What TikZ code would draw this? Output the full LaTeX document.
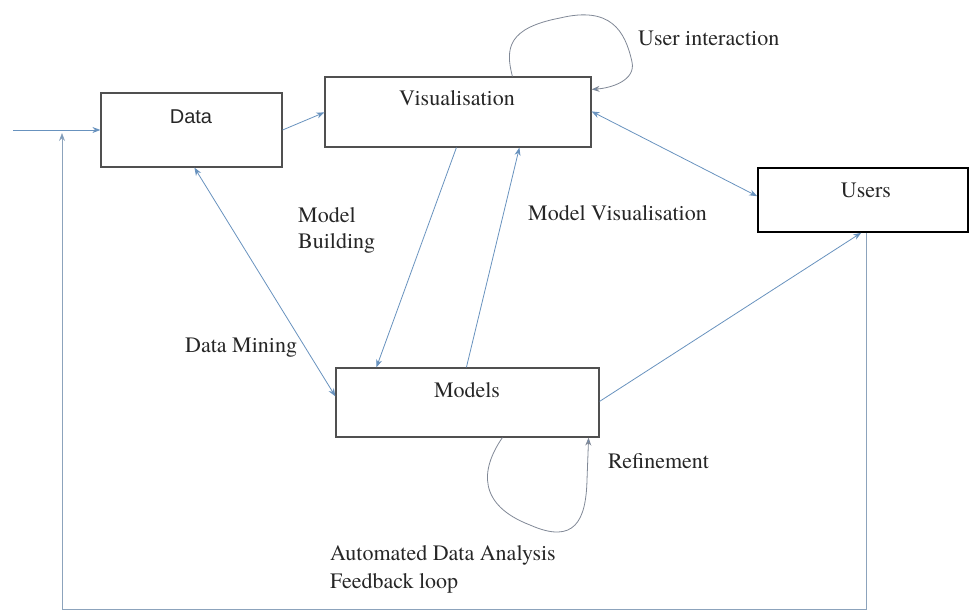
\documentclass[tikz,border=0pt]{standalone}
\usepackage{fontspec}
\setmainfont{texgyretermes}[Extension=.otf, UprightFont=*-regular, BoldFont=*-bold, ItalicFont=*-italic]
\newfontfamily\arialfont{Liberation Sans}
\usetikzlibrary{arrows.meta}
\definecolor{connblue}{RGB}{104,146,190}
\definecolor{loopgray}{RGB}{128,136,150}
\definecolor{boxgray}{RGB}{80,80,80}
\begin{document}
\begin{tikzpicture}[x=1pt,y=-1pt,
  box/.style={draw=boxgray,line width=1.2pt,rectangle,inner sep=0pt},
  conn/.style={draw=connblue,line width=0.8pt},
  loopline/.style={draw=loopgray,line width=0.8pt},
  tip/.style={-{Stealth[length=8pt,width=6pt,fill=connblue]}},
  bitip/.style={{Stealth[length=8pt,width=6pt,fill=connblue]}-{Stealth[length=8pt,width=6pt,fill=connblue]}},
  lbl/.style={font=\fontsize{22}{28}\selectfont,anchor=west,inner sep=0pt,text=black!85},
  boxtxt/.style={font=\fontsize{22}{28}\selectfont,inner sep=0pt,text=black!85}]
\useasboundingbox (0,0) rectangle (969,612);
% boxes
\node[box,minimum width=181pt,minimum height=74pt] (data) at (191.5,130) {};
\node[box,minimum width=266pt,minimum height=70pt] (vis) at (458,112) {};
\node[box,draw=black,line width=1.6pt,minimum width=210pt,minimum height=64pt] (users) at (863,200) {};
\node[box,minimum width=263pt,minimum height=69pt] (mod) at (467.5,402.5) {};
% box texts
\node[boxtxt,font=\arialfont\fontsize{20}{24}\selectfont] (dataT) at (191,117) {Data};
\node[boxtxt] (visT) at (457,98) {Visualisation};
\node[boxtxt] (usersT) at (866,190) {Users};
\node[boxtxt] (modT) at (467,390) {Models};
% labels
\node[lbl] (uiL) at (638,38) {User interaction};
\node[lbl] (mbL1) at (298,215) {Model};
\node[lbl] (mbL2) at (298,243) {Building};
\node[lbl] (mvL) at (528,213) {Model Visualisation};
\node[lbl] (dmL) at (185,348) {Data Mining};
\node[lbl] (refL) at (608,461) {Refinement};
\node[lbl] (adL1) at (330,555) {Automated Data Analysis};
\node[lbl] (adL2) at (330,583) {Feedback loop};
% free ends
\coordinate (in) at (13,130);
\coordinate (fb) at (62,609);
\coordinate (fbtop) at (62,133);
% connectors
\draw[conn,tip] (in) -- (data.west);
\draw[conn,tip] (data.east) -- ([yshift=-36pt]vis.north west);
\draw[conn,bitip] ([yshift=-35pt]vis.north east) -- ([yshift=-29pt]users.north west);
\draw[conn,bitip] ([xshift=94pt]data.south west) -- ([yshift=-29pt]mod.north west);
\draw[conn,tip] ([xshift=132pt]vis.south west) -- ([xshift=41pt]mod.north west);
\draw[conn,tip] ([xshift=131pt]mod.north west) -- ([xshift=195pt]vis.south west);
\draw[conn,tip] ([yshift=-34pt]mod.north east) -- ([xshift=104pt]users.south west);
\draw[conn,draw=connblue!70!gray!80,tip] ([xshift=109pt]users.south west) |- (fb) -- (fbtop);
% self loops
\draw[loopline,tip] ([xshift=188pt]vis.north west)
  .. controls (505,48) and (508,28) .. (560,18)
  .. controls (610,6) and (625,30) .. (632,62)
  .. controls (636,80) and (612,88) .. ([yshift=-13pt]vis.north east);
\draw[loopline,tip] ([xshift=167pt]mod.south west)
  .. controls (480,470) and (478,505) .. (530,525)
  .. controls (575,545) and (586,520) .. (587,480)
  -- ([xshift=-11pt]mod.south east);
\end{tikzpicture}
\end{document}
